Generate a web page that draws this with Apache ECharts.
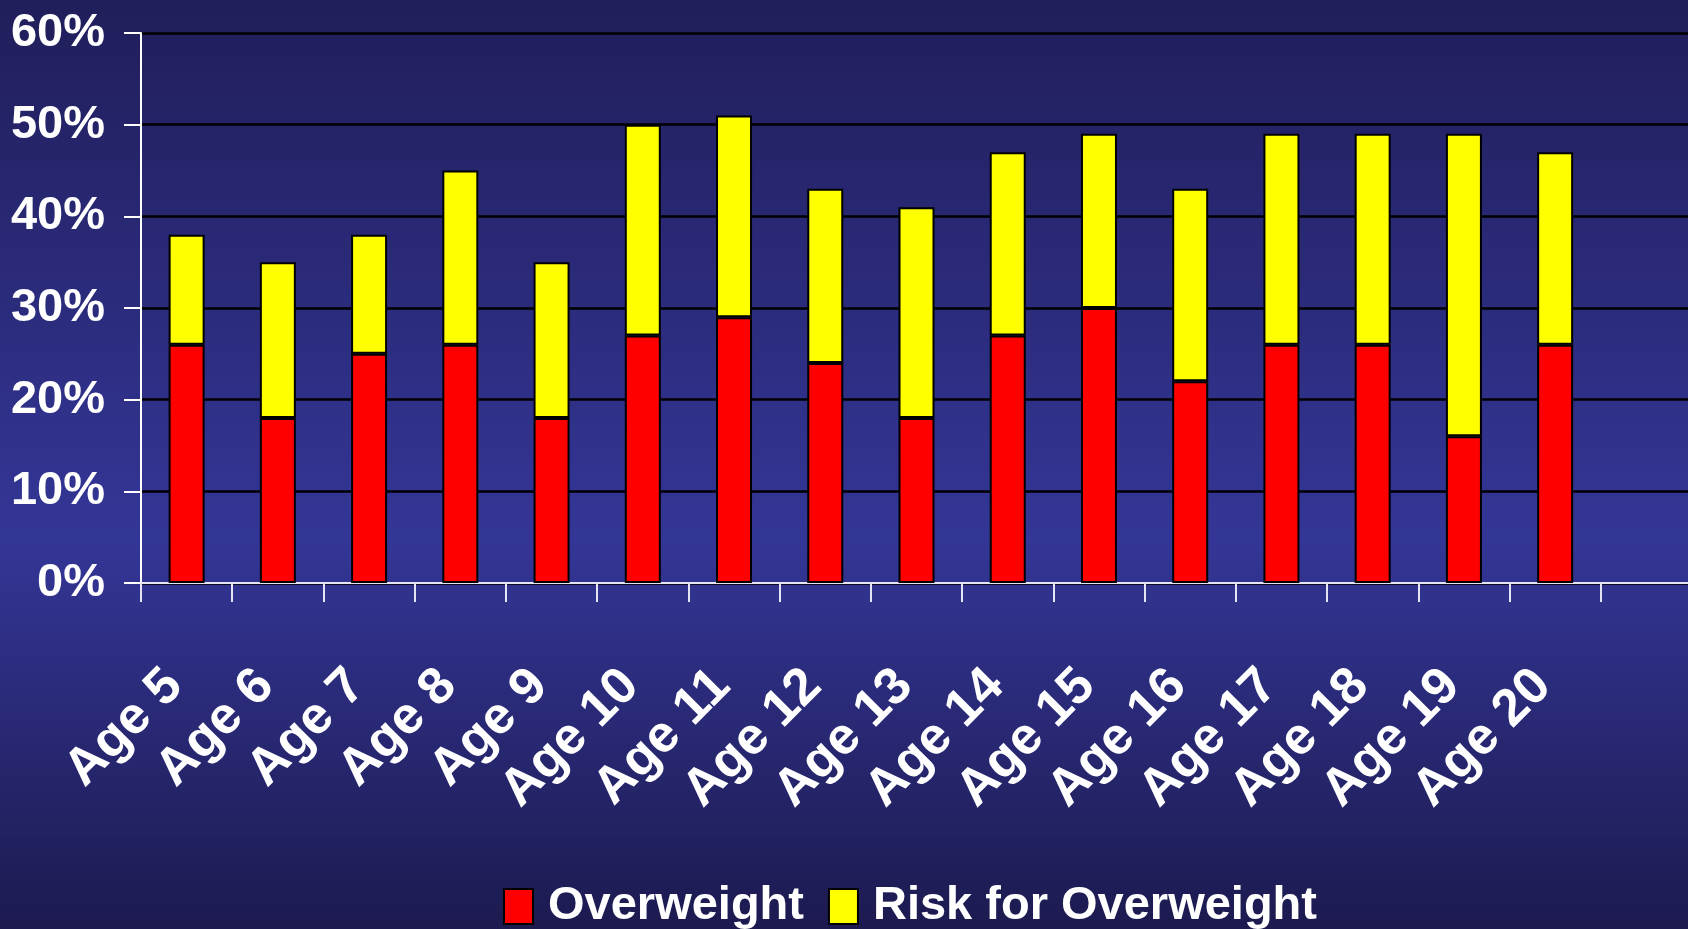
<!DOCTYPE html>
<html>
<head>
<meta charset="utf-8">
<script src="https://cdn.jsdelivr.net/npm/echarts@6/dist/echarts.min.js"></script>
<style>
  html, body { margin: 0; padding: 0; }
  #chart { width: 1688px; height: 929px; }
</style>
</head>
<body>
<div id="chart"></div>
<script>
// ages, plus one empty slot on the right like the original
const ages = ['Age 5', 'Age 6', 'Age 7', 'Age 8', 'Age 9', 'Age 10', 'Age 11', 'Age 12',
  'Age 13', 'Age 14', 'Age 15', 'Age 16', 'Age 17', 'Age 18', 'Age 19', 'Age 20', '']
const overweight = [26, 18, 25, 26, 18, 27, 29, 24, 18, 27, 30, 22, 26, 26, 16, 26]
const riskForOverweight = [12, 17, 13, 19, 17, 23, 22, 19, 23, 20, 19, 21, 23, 23, 33, 21]
const yTicks = { min: 0, max: 60, step: 10 }

const font = '"Liberation Sans", Arial, sans-serif'

const myChart = echarts.init(document.getElementById('chart'))

const barStyle = (color) => ({
  color: color,
  borderColor: '#000',
  borderWidth: 2
})

const option = {
  animation: false,
  backgroundColor: {
    type: 'linear', x: 0, y: 0, x2: 0, y2: 1,
    colorStops: [
      { offset: 0, color: '#201e5a' },
      { offset: 0.58, color: '#343697' },
      { offset: 1, color: '#1c1a4f' }
    ]
  },
  grid: { left: 141, right: -4, top: 33, bottom: 346, outerBoundsMode: 'none' },
  legend: {
    left: 498,
    top: 878,
    itemWidth: 29,
    itemHeight: 35,
    itemGap: 24,
    icon: 'rect',
    textStyle: {
      color: '#fff',
      fontFamily: font,
      fontWeight: 'bold',
      fontSize: 47,
      padding: [0, 0, 0, 10]
    },
    data: ['Overweight', 'Risk for Overweight']
  },
  xAxis: {
    type: 'category',
    data: ages,
    boundaryGap: true,
    axisLine: { lineStyle: { color: '#e4e4f4', width: 2 } },
    axisTick: { show: true, length: 19, lineStyle: { color: '#e4e4f4', width: 2 } },
    axisLabel: {
      interval: 0,
      rotate: 45,
      margin: 83,
      padding: [0, 17, 0, 0],
      color: '#fff',
      fontFamily: font,
      fontWeight: 'bold',
      fontSize: 52
    },
    splitLine: { show: false }
  },
  yAxis: {
    type: 'value',
    min: yTicks.min,
    max: yTicks.max,
    interval: yTicks.step,
    axisLine: { show: true, lineStyle: { color: '#fff', width: 2 } },
    axisTick: { show: true, length: 17, lineStyle: { color: '#fff', width: 2 } },
    axisLabel: {
      margin: 36,
      color: '#fff',
      fontFamily: font,
      fontWeight: 'bold',
      fontSize: 47,
      formatter: '{value}%'
    },
    splitLine: { show: true, lineStyle: { color: '#000', width: 2.5 } }
  },
  series: [
    {
      name: 'Overweight',
      type: 'bar',
      stack: 'total',
      barWidth: 36,
      itemStyle: barStyle('#ff0000'),
      data: overweight
    },
    {
      name: 'Risk for Overweight',
      type: 'bar',
      stack: 'total',
      barWidth: 36,
      itemStyle: barStyle('#ffff00'),
      data: riskForOverweight
    }
  ]
}

myChart.setOption(option)
</script>
</body>
</html>
